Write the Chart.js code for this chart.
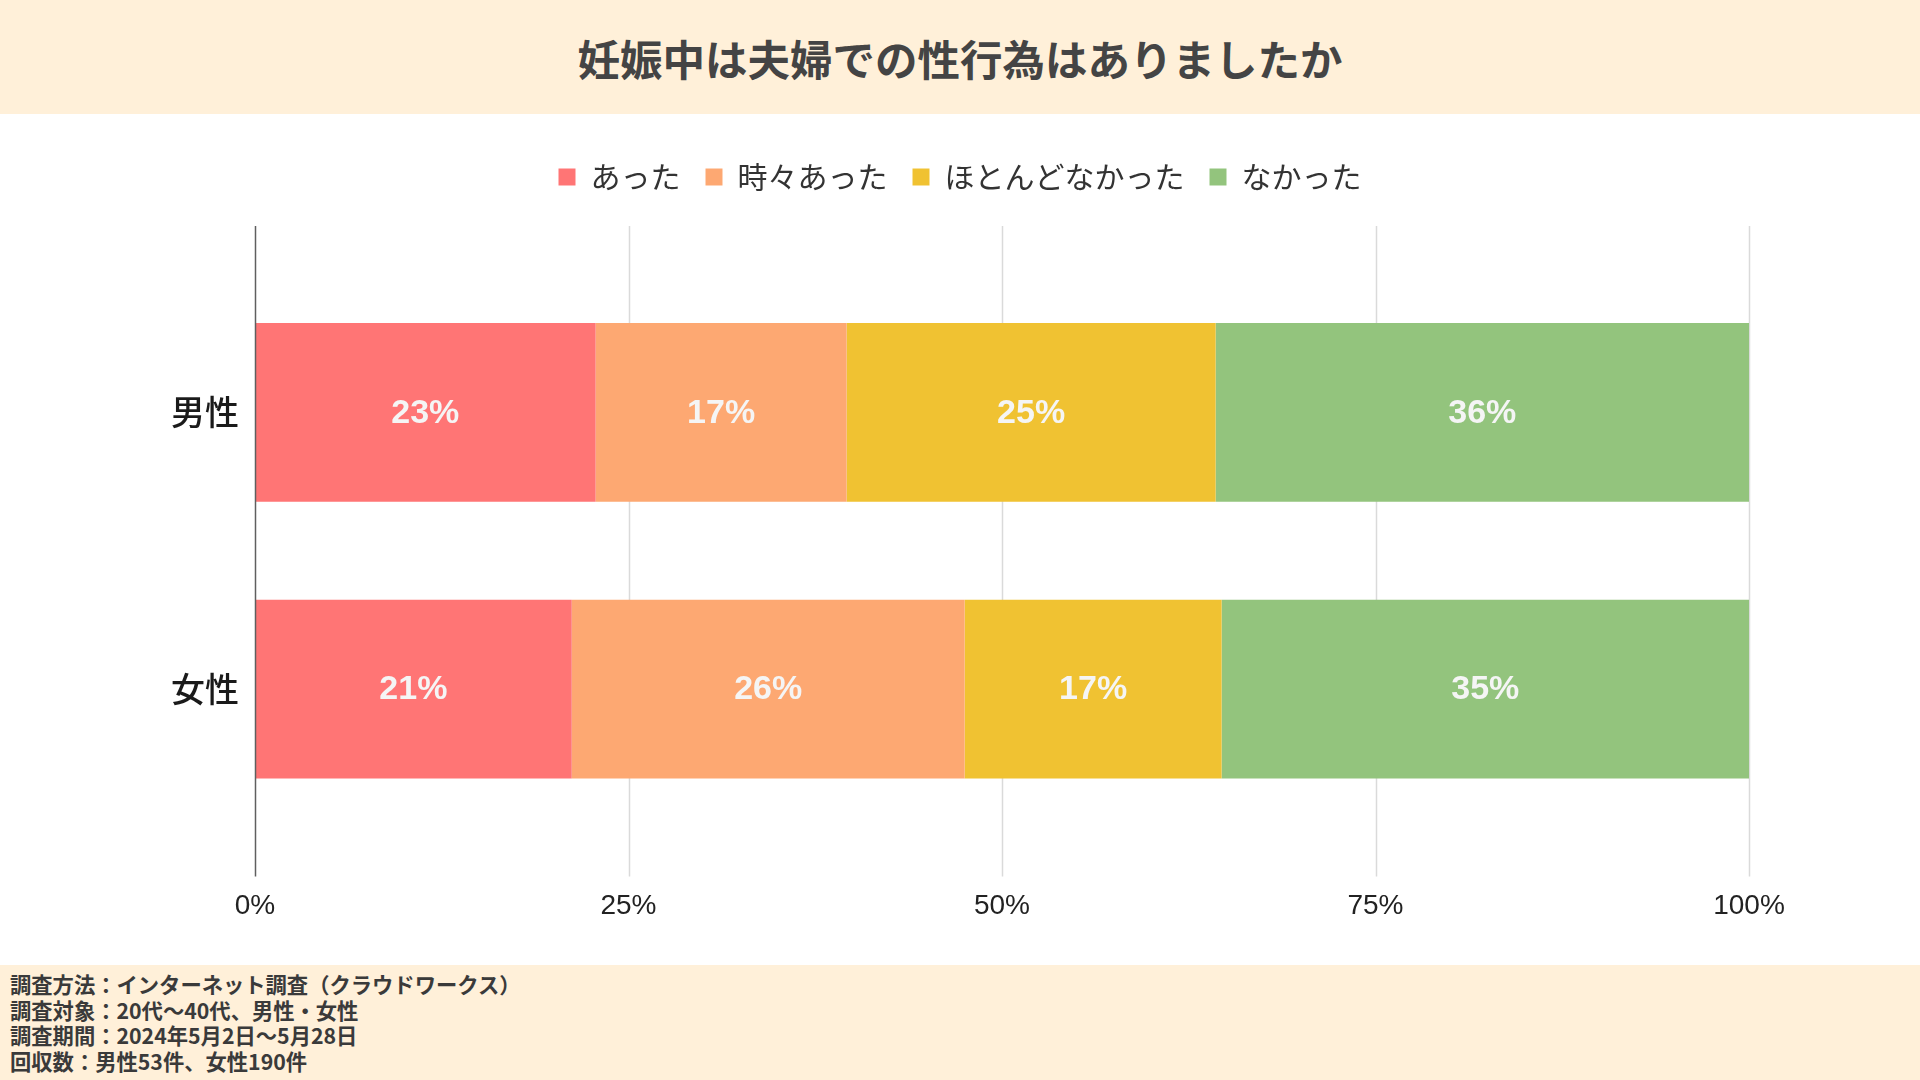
<!DOCTYPE html>
<html lang="ja">
<head>
<meta charset="utf-8">
<title>妊娠中は夫婦での性行為はありましたか</title>
<script src="https://cdn.jsdelivr.net/npm/chart.js@4.4.1/dist/chart.umd.min.js"></script>
<style>
  html, body { margin: 0; padding: 0; background: #fff; }
  body { width: 1920px; height: 1080px; position: relative; overflow: hidden;
         font-family: 'Noto Sans CJK JP', sans-serif; }
  .title-band { position: absolute; left: 0; top: 0; width: 1920px; height: 114px;
                background: #fff0d9; display: flex; align-items: center; justify-content: center; }
  .title-band h1 { margin: 0; font-size: 42.5px; font-weight: 700; color: #444; }
  .chart-box { position: absolute; left: 0; top: 114px; width: 1920px; height: 871px; }
  .footer { position: absolute; left: 0; top: 965px; width: 1920px; height: 115px;
            background: #fff0d9; box-sizing: border-box; padding: 6px 0 0 10px;
            font-size: 21.3px; font-weight: 700; color: #3a3a3a; line-height: 25.7px; }
</style>
</head>
<body>
<div class="title-band"><h1>妊娠中は夫婦での性行為はありましたか</h1></div>
<div class="chart-box"><canvas id="chart"></canvas></div>
<div class="footer">
  <div>調査方法：インターネット調査（クラウドワークス）</div>
  <div>調査対象：20代〜40代、男性・女性</div>
  <div>調査期間：2024年5月2日〜5月28日</div>
  <div>回収数：男性53件、女性190件</div>
</div>

<script>
// ── Data ─────────────────────────────────────────────────────────────────────

const CATEGORIES = ['男性', '女性'];
const SERIES_NAMES = ['あった', '時々あった', 'ほとんどなかった', 'なかった'];
const COLORS = ['#ff7575', '#fda872', '#f0c232', '#93c47d'];

// percent per answer, one value per category (男性, 女性)
const ATTA      = [22.8, 21.2];
const TOKIDOKI  = [16.8, 26.3];
const HOTONDO   = [24.7, 17.2];
const NAKATTA   = [35.7, 35.3];

const X_TICKS = [0, 25, 50, 75, 100];

// ── Plugins ──────────────────────────────────────────────────────────────────

// extra room under the legend
const legendGap = {
  id: 'legendGap',
  beforeInit(chart) {
    const fit = chart.legend.fit;
    chart.legend.fit = function () {
      fit.bind(chart.legend)();
      this.height += 72;
    };
  },
};

// grid lines reach a bit above / below the bars, like the original
const extGrid = {
  id: 'extGrid',
  beforeDatasetsDraw(chart) {
    const { ctx, chartArea: a, scales: { x } } = chart;
    ctx.save();
    X_TICKS.slice(1).forEach(v => {
      const px = Math.round(x.getPixelForValue(v)) + 0.5;
      ctx.strokeStyle = '#dadada';
      ctx.lineWidth = 1.5;
      ctx.beginPath();
      ctx.moveTo(px, a.top - 48);
      ctx.lineTo(px, a.bottom + 49);
      ctx.stroke();
    });
    ctx.restore();
  },
  afterDatasetsDraw(chart) {
    const { ctx, chartArea: a, scales: { x } } = chart;
    const px = Math.round(x.getPixelForValue(0)) + 0.5;
    ctx.save();
    ctx.strokeStyle = '#5f5f5f';
    ctx.lineWidth = 1.5;
    ctx.beginPath();
    ctx.moveTo(px, a.top - 48);
    ctx.lineTo(px, a.bottom + 49);
    ctx.stroke();
    ctx.restore();
  },
};

// rounded % labels in the middle of each segment
const barLabels = {
  id: 'barLabels',
  afterDatasetsDraw(chart) {
    const { ctx } = chart;
    ctx.save();
    ctx.font = 'bold 34px "Liberation Sans", Arial, sans-serif';
    ctx.fillStyle = '#f5f5f5';
    ctx.textAlign = 'center';
    ctx.textBaseline = 'middle';
    chart.data.datasets.forEach((ds, i) => {
      chart.getDatasetMeta(i).data.forEach((bar, j) => {
        const { x, y, base } = bar.getProps(['x', 'y', 'base'], true);
        ctx.fillText(`${Math.round(ds.data[j])}%`, (x + base) / 2, y + 1);
      });
    });
    ctx.restore();
  },
};

// ── Chart ────────────────────────────────────────────────────────────────────

Chart.defaults.font.family = "'Noto Sans CJK JP', 'Noto Sans', sans-serif";
Chart.defaults.color = '#222';

const values = [ATTA, TOKIDOKI, HOTONDO, NAKATTA];

const datasets = SERIES_NAMES.map((name, i) => ({
  label: name,
  data: values[i],
  backgroundColor: COLORS[i],
  borderWidth: 0,
  categoryPercentage: 1,
  barPercentage: 0.646,
}));

new Chart(document.getElementById('chart'), {
  type: 'bar',
  data: { labels: CATEGORIES, datasets },
  options: {
    indexAxis: 'y',
    responsive: true,
    maintainAspectRatio: false,
    animation: false,
    layout: { padding: { left: 171, right: 171, top: 23, bottom: 0 } },
    plugins: {
      legend: {
        position: 'top',
        labels: {
          boxWidth: 17,
          boxHeight: 17,
          padding: 25,
          color: '#333',
          font: { size: 30 },
        },
      },
      tooltip: { enabled: false },
    },
    scales: {
      x: {
        stacked: true,
        min: 0,
        max: 100,
        grid: { display: false, drawTicks: false },
        border: { display: false },
        ticks: {
          stepSize: 25,
          padding: 62,
          color: '#222',
          font: { size: 28, family: "'Liberation Sans', Arial, sans-serif" },
          callback: v => `${v}%`,
        },
      },
      y: {
        stacked: true,
        grid: { display: false, drawTicks: false },
        border: { display: false },
        afterFit: scale => { scale.width = 84; },
        ticks: {
          padding: 16,
          color: '#1a1a1a',
          font: { size: 34, weight: 500 },
        },
      },
    },
  },
  plugins: [legendGap, extGrid, barLabels],
});
</script>
</body>
</html>
